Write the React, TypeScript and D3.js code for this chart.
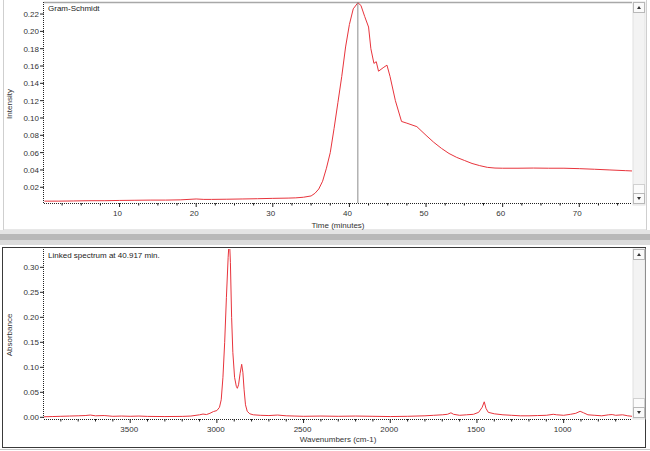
import React from 'react';
import * as d3 from 'd3';

const gsTime = [0.2, 2, 4, 6, 8, 10, 12, 14, 16, 18, 20, 21, 22, 24, 26, 28, 30, 32, 33, 34, 35, 35.5, 36, 36.5, 37, 37.5, 38, 38.5, 39, 39.5, 40, 40.5, 41.1, 41.5, 42, 42.5, 42.8, 43.2, 43.5, 43.8, 44.4, 44.9, 45.3, 46, 46.8, 47.5, 48.8, 50, 51, 52, 53, 54, 55, 56, 57, 58, 59, 60, 62, 64, 66, 68, 70, 72, 74, 76, 77];
const gsIntensity = [0.004, 0.004, 0.0042, 0.0045, 0.0045, 0.0048, 0.005, 0.0052, 0.0052, 0.0055, 0.0065, 0.006, 0.006, 0.0062, 0.0065, 0.0068, 0.0072, 0.0075, 0.0078, 0.0085, 0.01, 0.013, 0.018, 0.027, 0.042, 0.06, 0.088, 0.118, 0.148, 0.182, 0.208, 0.226, 0.233, 0.23, 0.217, 0.205, 0.18, 0.163, 0.165, 0.154, 0.158, 0.161, 0.148, 0.12, 0.096, 0.094, 0.09, 0.08, 0.072, 0.065, 0.059, 0.0545, 0.051, 0.0475, 0.045, 0.043, 0.0422, 0.042, 0.042, 0.0422, 0.042, 0.042, 0.0415, 0.0408, 0.04, 0.0392, 0.0388];

const specWavenumber = [4000, 3950, 3900, 3850, 3800, 3760, 3730, 3700, 3650, 3600, 3550, 3500, 3450, 3400, 3300, 3200, 3150, 3100, 3080, 3060, 3040, 3020, 3000, 2985, 2975, 2965, 2955, 2945, 2935, 2928, 2922, 2915, 2908, 2898, 2888, 2882, 2875, 2866, 2857, 2850, 2843, 2835, 2825, 2810, 2790, 2750, 2700, 2650, 2600, 2550, 2500, 2400, 2300, 2200, 2100, 2000, 1900, 1800, 1750, 1700, 1670, 1650, 1635, 1600, 1560, 1520, 1490, 1470, 1458, 1448, 1435, 1400, 1350, 1300, 1250, 1200, 1150, 1100, 1060, 1040, 1000, 960, 930, 905, 885, 860, 820, 780, 740, 720, 700, 660, 630, 605];
const specAbsorbance = [0.001, 0.0015, 0.002, 0.0025, 0.003, 0.0035, 0.0045, 0.003, 0.0035, 0.002, 0.0025, 0.002, 0.0025, 0.0018, 0.0015, 0.0018, 0.0025, 0.005, 0.0065, 0.0055, 0.008, 0.0115, 0.0135, 0.02, 0.035, 0.08, 0.15, 0.24, 0.32, 0.36, 0.31, 0.2, 0.13, 0.08, 0.062, 0.058, 0.065, 0.088, 0.106, 0.09, 0.055, 0.025, 0.012, 0.007, 0.005, 0.004, 0.0035, 0.0045, 0.003, 0.0025, 0.002, 0.0025, 0.002, 0.0025, 0.002, 0.0015, 0.002, 0.003, 0.004, 0.005, 0.006, 0.009, 0.006, 0.004, 0.005, 0.006, 0.01, 0.02, 0.031, 0.018, 0.01, 0.007, 0.005, 0.004, 0.003, 0.003, 0.0035, 0.004, 0.006, 0.005, 0.004, 0.006, 0.008, 0.012, 0.009, 0.005, 0.004, 0.003, 0.005, 0.0055, 0.004, 0.005, 0.003, 0.002];

const timeTicks = [10, 20, 30, 40, 50, 60, 70];
const intensityTicks = [0.02, 0.04, 0.06, 0.08, 0.1, 0.12, 0.14, 0.16, 0.18, 0.2, 0.22];
const wnTicks = [3500, 3000, 2500, 2000, 1500, 1000];
const absTicks = [0, 0.05, 0.1, 0.15, 0.2, 0.25, 0.3];
const markerTime = 41.1;

const FONT = '"Liberation Sans", Arial, sans-serif';
const RED = '#e8343c';

function ScrollBar({ x, y0, y1 }: { x: number; y0: number; y1: number }) {
  return (
    <g>
      <rect x={x} y={y0} width={12} height={y1 - y0} fill="#f3f3f3" stroke="#e2e2e2" />
      <rect x={x + 0.5} y={y0 + 0.5} width={11} height={10} fill="#fafafa" stroke="#b8b8b8" />
      <path d={`M${x + 4},${y0 + 7} L${x + 8},${y0 + 7} L${x + 6},${y0 + 4} Z`} fill="#333" />
      <rect x={x + 0.5} y={y1 - 20.5} width={11} height={9} fill="#fbfbfb" stroke="#d0d0d0" />
      <rect x={x + 0.5} y={y1 - 11.5} width={11} height={10} fill="#fafafa" stroke="#b8b8b8" />
      <path d={`M${x + 4},${y1 - 8} L${x + 8},${y1 - 8} L${x + 6},${y1 - 5} Z`} fill="#333" />
    </g>
  );
}

export default function App() {
  const W = 650, H = 451;
  // top chart
  const tx = d3.scaleLinear().domain([0.14, 76.88]).range([44, 632]);
  const ty = d3.scaleLinear().domain([0.00185, 0.2339]).range([203, 2]);
  // bottom chart
  const wx = d3.scaleLinear().domain([4000, 600]).range([43.5, 633]);
  const wy = d3.scaleLinear().domain([-0.0034, 0.3366]).range([419, 249]);

  const gsLine = d3.line<number>().x((d, i) => tx(gsTime[i])).y((d) => ty(d));
  const specLine = d3.line<number>().x((d, i) => wx(specWavenumber[i])).y((d) => wy(d));

  const tMinor = d3.range(2.5, 77, 2.5).filter((v) => v % 10 !== 0);
  const wMinor = d3.range(3900, 600, -100).filter((v) => v % 500 !== 0);

  const tLeft = tx.range()[0], tRight = tx.range()[1];
  const tTop = ty.range()[1], tBot = ty.range()[0];
  const wLeft = 44, wRight = 632;
  const wTop = wy.range()[1], wBot = wy.range()[0];

  return (
    <svg width={W} height={H} style={{ position: 'absolute', left: 0, top: 0, background: '#fff' }} fontFamily={FONT}>
      <defs>
        <clipPath id="clipTop"><rect x={tLeft} y={tTop} width={tRight - tLeft} height={tBot - tTop} /></clipPath>
        <clipPath id="clipBot"><rect x={wLeft} y={wTop} width={wRight - wLeft} height={wBot - wTop} /></clipPath>
      </defs>
      <rect x={0} y={0} width={W} height={H} fill="#fff" />

      {/* top panel frame */}
      <rect x={3.5} y={-1} width={643} height={231} fill="none" stroke="#cfcfcf" />
      <line x1={tLeft} x2={tRight} y1={tTop + 0.5} y2={tTop + 0.5} stroke="#a8a8a8" strokeWidth={1.5} />

      {/* divider bars */}
      <rect x={0} y={230} width={W} height={4} fill="#e4e4e4" />
      <rect x={0} y={234} width={W} height={6} fill="#b9b9b9" />
      <rect x={0} y={240} width={W} height={5} fill="#dcdcdc" />

      {/* bottom panel frame */}
      <rect x={2.5} y={247.5} width={643} height={200} fill="#fff" stroke="#3a3a3a" />
      <line x1={0} x2={W} y1={449.5} y2={449.5} stroke="#c8c8c8" />

      {/* TOP CHART */}
      <g clipPath="url(#clipTop)">
        <path d={gsLine(gsIntensity) || ''} fill="none" stroke={RED} strokeWidth={1} />
      </g>
      <line x1={tx(markerTime)} x2={tx(markerTime)} y1={tTop} y2={tBot} stroke="#8c8c8c" strokeWidth={1} />
      {/* axes */}
      <line x1={tLeft - 0.5} x2={tLeft - 0.5} y1={tTop} y2={tBot} stroke="#222" strokeDasharray="1 1" />
      <line x1={tLeft} x2={tRight} y1={tBot + 0.5} y2={tBot + 0.5} stroke="#222" strokeDasharray="1 1" />
      {intensityTicks.map((v) => (
        <g key={'iy' + v}>
          <line x1={tLeft - 4} x2={tLeft} y1={ty(v)} y2={ty(v)} stroke="#222" />
          <text x={tLeft - 5} y={ty(v) + 3} fontSize={8} textAnchor="end" fill="#333">{v.toFixed(2)}</text>
        </g>
      ))}
      {tMinor.map((v) => (
        <line key={'tm' + v} x1={tx(v)} x2={tx(v)} y1={tBot} y2={tBot + 2.5} stroke="#222" />
      ))}
      {timeTicks.map((v) => (
        <g key={'tt' + v}>
          <line x1={tx(v)} x2={tx(v)} y1={tBot} y2={tBot + 4} stroke="#222" />
          <text x={tx(v) - 2} y={tBot + 13} fontSize={8} textAnchor="middle" fill="#333">{v}</text>
        </g>
      ))}
      <text x={338} y={228} fontSize={8} textAnchor="middle" fill="#333">Time (minutes)</text>
      <text transform={`translate(12, 104) rotate(-90)`} fontSize={8} textAnchor="middle" fill="#333">Intensity</text>
      <text x={48} y={11} fontSize={8} fill="#222">Gram-Schmidt</text>
      <ScrollBar x={633} y0={2} y1={205} />

      {/* BOTTOM CHART */}
      <g clipPath="url(#clipBot)">
        <path d={specLine(specAbsorbance) || ''} fill="none" stroke={RED} strokeWidth={1} />
      </g>
      <line x1={wLeft - 0.5} x2={wLeft - 0.5} y1={wTop} y2={wBot} stroke="#222" strokeDasharray="1 1" />
      <line x1={wLeft} x2={wRight} y1={wBot + 0.5} y2={wBot + 0.5} stroke="#222" strokeDasharray="1 1" />
      {absTicks.map((v) => (
        <g key={'ay' + v}>
          <line x1={wLeft - 4} x2={wLeft} y1={wy(v)} y2={wy(v)} stroke="#222" />
          <text x={wLeft - 5} y={wy(v) + 3} fontSize={8} textAnchor="end" fill="#333">{v.toFixed(2)}</text>
        </g>
      ))}
      {wMinor.map((v) => (
        <line key={'wm' + v} x1={wx(v)} x2={wx(v)} y1={wBot} y2={wBot + 2.5} stroke="#222" />
      ))}
      {wnTicks.map((v) => (
        <g key={'wt' + v}>
          <line x1={wx(v)} x2={wx(v)} y1={wBot} y2={wBot + 4} stroke="#222" />
          <text x={wx(v) - 1} y={wBot + 13} fontSize={8} textAnchor="middle" fill="#333">{v}</text>
        </g>
      ))}
      <text x={338} y={442} fontSize={8} textAnchor="middle" fill="#333">Wavenumbers (cm-1)</text>
      <text transform={`translate(12, 335) rotate(-90)`} fontSize={8} textAnchor="middle" fill="#333">Absorbance</text>
      <text x={48} y={258} fontSize={8} fill="#222">Linked spectrum at 40.917 min.</text>
      <ScrollBar x={633} y0={249} y1={419} />
    </svg>
  );
}
